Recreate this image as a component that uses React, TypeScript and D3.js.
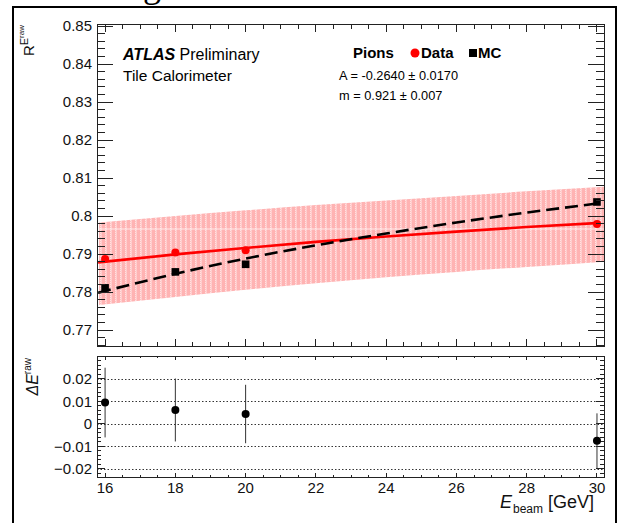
import * as d3 from 'd3';
import React from 'react';

const W = 622;
const H = 523;

// beam energies and measured responses
const energies = [16, 18, 20, 30];
const dataR = [0.7887, 0.7904, 0.791, 0.7979];
const mcR = [0.7811, 0.7853, 0.7873, 0.8037];

// lower panel: difference and its error
const diffVals = [0.0095, 0.0062, 0.0044, -0.0075];
const diffErr = [0.0155, 0.014, 0.013, 0.0122];

// fit curves
const fitE = [15.8, 18, 20, 22, 24, 26, 28, 30.1];
const dataFit = [0.7878, 0.7899, 0.7916, 0.7932, 0.7946, 0.7959, 0.7971, 0.7982];
const mcFit = [0.7798, 0.7848, 0.7888, 0.7923, 0.7954, 0.7983, 0.8009, 0.8034];

// error band of the data fit
const bandE = [15.83, 18, 20, 22, 24, 26, 28, 30.2];
const bandUp = [0.7983, 0.8, 0.8015, 0.8029, 0.8041, 0.8053, 0.8065, 0.8077];
const bandLo = [0.7766, 0.7787, 0.7806, 0.7823, 0.7839, 0.7853, 0.7866, 0.788];

const xTicks = [16, 18, 20, 22, 24, 26, 28, 30];
const yTopTicks = [0.77, 0.78, 0.79, 0.8, 0.81, 0.82, 0.83, 0.84, 0.85];
const yTopLabels = ['0.77', '0.78', '0.79', '0.8', '0.81', '0.82', '0.83', '0.84', '0.85'];
const yBotTicks = [-0.02, -0.01, 0, 0.01, 0.02];
const yBotLabels = ['\u22120.02', '\u22120.01', '0', '0.01', '0.02'];

const FONT = "'Liberation Sans', Arial, Helvetica, sans-serif";

const x = d3.scaleLinear().domain([15.77, 30.2]).range([97, 604]);
const yTop = d3.scaleLinear().domain([0.7658, 0.8504]).range([346, 24.5]);
const yBot = d3.scaleLinear().domain([-0.0236, 0.0302]).range([477, 356]);

const X0 = 97, X1 = 604;

export default function App() {
  const curve = d3.curveMonotoneX;
  const band = d3
    .area<number>()
    .x((_, i) => x(bandE[i]))
    .y0((_, i) => yTop(bandLo[i]))
    .y1((_, i) => yTop(bandUp[i]))
    .curve(curve)(bandE);
  const dataLine = d3
    .line<number>()
    .x((d) => x(d))
    .y((_, i) => yTop(dataFit[i]))
    .curve(curve)(fitE);
  const mcLine = d3
    .line<number>()
    .x((d) => x(d))
    .y((_, i) => yTop(mcFit[i]))
    .curve(curve)(fitE);

  const xMinor = d3.range(16, 30.01, 0.5).filter((v) => Math.abs(v % 2) > 0.01);
  const yTopMinor = d3.range(0.766, 0.8501, 0.002).filter(
    (v) => Math.abs(Math.round(v * 100) - v * 100) > 0.01
  );
  const yBotMinor = d3.range(-0.022, 0.0301, 0.002).filter(
    (v) => Math.abs(Math.round(v * 100) - v * 100) > 0.01
  );

  const stroke = '#222';

  return (
    <svg width={W} height={H} style={{ position: 'absolute', left: 0, top: 0, background: '#fff' }} fontFamily={FONT}>
      <defs>
        <pattern id="hatch" width={5} height={2} patternUnits="userSpaceOnUse">
          <rect width={5} height={2} fill="#ffb3b3" />
          <rect x={0} width={1.5} height={1} fill="#ffe2e2" />
          <rect x={0.5} y={1} width={1.5} height={1} fill="#ffd0d0" />
        </pattern>
        <clipPath id="bandclip">
          <path d={band || ''} />
        </clipPath>
      </defs>

      {/* caption fragment above frame */}
      <text x={143} y={-3} fontFamily="'Liberation Serif', 'Times New Roman', serif" fontSize={36}>g</text>

      {/* outer frame */}
      <rect x={13} y={7} width={603} height={H + 20} fill="none" stroke="#000" strokeWidth={2} />

      {/* ===== top panel ===== */}
      <path d={band || ''} fill="url(#hatch)" />
      <g clipPath="url(#bandclip)">
        <line x1={X0} x2={X1} y1={229} y2={229} stroke="#fff" strokeOpacity={0.7} strokeWidth={1} />
      </g>
      <path d={dataLine || ''} fill="none" stroke="#ff0000" strokeWidth={2.6} />
      <path d={mcLine || ''} fill="none" stroke="#000" strokeWidth={2.6} strokeDasharray="13 6" />

      {energies.map((e, i) => (
        <circle key={'d' + e} cx={x(e)} cy={yTop(dataR[i])} r={4} fill="#ff0000" />
      ))}
      {energies.map((e, i) => (
        <rect key={'m' + e} x={x(e) - 3.8} y={yTop(mcR[i]) - 3.8} width={7.6} height={7.6} fill="#000" />
      ))}

      <g shapeRendering="crispEdges" stroke={stroke} strokeWidth={1}>
        <rect x={X0} y={24.5} width={X1 - X0} height={346 - 24.5} fill="none" />
        {xTicks.map((t) => (
          <g key={'xt' + t}>
            <line x1={x(t)} x2={x(t)} y1={346} y2={339} />
            <line x1={x(t)} x2={x(t)} y1={24.5} y2={31.5} />
          </g>
        ))}
        {xMinor.map((t) => (
          <g key={'xm' + t}>
            <line x1={x(t)} x2={x(t)} y1={346} y2={342} />
            <line x1={x(t)} x2={x(t)} y1={24.5} y2={28.5} />
          </g>
        ))}
        {yTopTicks.map((t) => (
          <g key={'yt' + t}>
            <line x1={X0} x2={X0 + 16} y1={yTop(t)} y2={yTop(t)} />
            <line x1={X1} x2={X1 - 16} y1={yTop(t)} y2={yTop(t)} />
          </g>
        ))}
        {yTopMinor.map((t) => (
          <g key={'ym' + t}>
            <line x1={X0} x2={X0 + 8} y1={yTop(t)} y2={yTop(t)} />
            <line x1={X1} x2={X1 - 8} y1={yTop(t)} y2={yTop(t)} />
          </g>
        ))}
      </g>
      {yTopTicks.map((t, i) => (
        <text key={'ytl' + t} x={92} y={yTop(t) + 5.3} fontSize={15} textAnchor="end" fill="#111">
          {yTopLabels[i]}
        </text>
      ))}

      {/* y title top */}
      <text transform="translate(33.5,25) rotate(-90)" textAnchor="end" fontSize={15} fill="#111">
        R
        <tspan fontSize={11} dy={-6}>E</tspan>
        <tspan fontSize={8} dy={-4}>raw</tspan>
      </text>

      {/* ATLAS label */}
      <text x={123} y={60} fontSize={16} fill="#000">
        <tspan fontWeight="bold" fontStyle="italic">ATLAS</tspan> Preliminary
      </text>
      <text x={123} y={81} fontSize={15.5} fill="#000">Tile Calorimeter</text>

      {/* legend */}
      <text x={353} y={58} fontSize={15} fontWeight="bold" fill="#000">Pions</text>
      <circle cx={415} cy={53} r={4.5} fill="#ff0000" />
      <text x={421} y={58} fontSize={15} fontWeight="bold" fill="#000">Data</text>
      <rect x={469} y={49} width={8} height={8} fill="#000" />
      <text x={478} y={58} fontSize={15} fontWeight="bold" fill="#000">MC</text>
      <text x={339} y={80} fontSize={12.8} fill="#000">A = -0.2640 ± 0.0170</text>
      <text x={339} y={100} fontSize={12.8} fill="#000">m = 0.921 ± 0.007</text>

      {/* ===== bottom panel ===== */}
      <g stroke="#000" strokeWidth={0.8} strokeDasharray="1.5 2">
        {yBotTicks.map((t) => (
          <line key={'g' + t} x1={X0} x2={X1} y1={Math.round(yBot(t)) + 0.5} y2={Math.round(yBot(t)) + 0.5} />
        ))}
      </g>

      <g shapeRendering="crispEdges" stroke={stroke} strokeWidth={1}>
        <rect x={X0} y={356} width={X1 - X0} height={477 - 356} fill="none" />
        {xTicks.map((t) => (
          <g key={'bxt' + t}>
            <line x1={x(t)} x2={x(t)} y1={477} y2={473} />
            <line x1={x(t)} x2={x(t)} y1={356} y2={360} />
          </g>
        ))}
        {xMinor.map((t) => (
          <g key={'bxm' + t}>
            <line x1={x(t)} x2={x(t)} y1={477} y2={475} />
            <line x1={x(t)} x2={x(t)} y1={356} y2={358} />
          </g>
        ))}
        {yBotTicks.map((t) => (
          <g key={'byt' + t}>
            <line x1={X0} x2={X0 + 8} y1={yBot(t)} y2={yBot(t)} />
            <line x1={X1} x2={X1 - 8} y1={yBot(t)} y2={yBot(t)} />
          </g>
        ))}
        {yBotMinor.map((t) => (
          <g key={'bym' + t}>
            <line x1={X0} x2={X0 + 4} y1={yBot(t)} y2={yBot(t)} />
            <line x1={X1} x2={X1 - 4} y1={yBot(t)} y2={yBot(t)} />
          </g>
        ))}
      </g>

      {energies.map((e, i) => (
        <g key={'p' + e}>
          <line
            x1={x(e)}
            x2={x(e)}
            y1={yBot(diffVals[i] + diffErr[i])}
            y2={yBot(diffVals[i] - diffErr[i])}
            stroke="#333"
            strokeWidth={1}
          />
          <circle cx={x(e)} cy={yBot(diffVals[i])} r={4} fill="#000" />
        </g>
      ))}

      {yBotTicks.map((t, i) => (
        <text key={'bytl' + t} x={92} y={yBot(t) + 5.3} fontSize={15} textAnchor="end" fill="#111">
          {yBotLabels[i]}
        </text>
      ))}
      {xTicks.map((t) => (
        <text key={'xtl' + t} x={x(t)} y={493} fontSize={15} textAnchor="middle" fill="#111">
          {t}
        </text>
      ))}

      {/* y title bottom */}
      <text transform="translate(38,358) rotate(-90)" textAnchor="end" fontSize={16} fill="#111">
        <tspan fontStyle="italic">ΔE</tspan>
        <tspan fontSize={10} dy={-7}>raw</tspan>
      </text>

      {/* x title */}
      <text x={500} y={508} fontSize={18} fill="#111">
        <tspan fontStyle="italic">E</tspan>
        <tspan fontSize={12} dy={5} dx={1}>beam</tspan>
        <tspan dy={-5} dx={5}>[GeV]</tspan>
      </text>
    </svg>
  );
}
